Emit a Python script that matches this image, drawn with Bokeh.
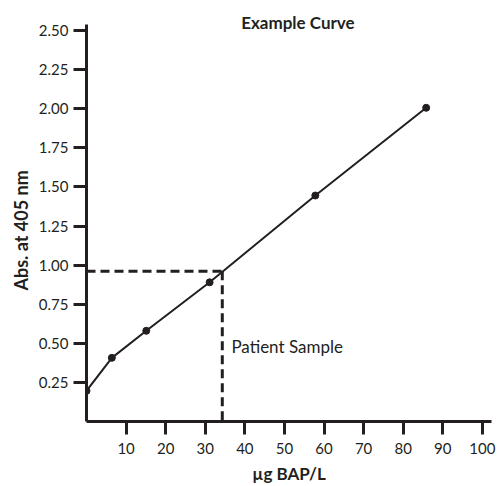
from bokeh.plotting import figure
from bokeh.models import Range1d, FixedTicker, NumeralTickFormatter, Label, Title
from bokeh.embed import file_html
from bokeh.resources import INLINE

# Standard curve data
conc = [0.0, 6.4, 15.1, 31.1, 57.8, 85.8]          # µg BAP/L
absorb = [0.196, 0.407, 0.58, 0.89, 1.445, 2.006]  # Abs. at 405 nm

sample_conc = 34.3
sample_abs = 0.96

x_ticks = [10, 20, 30, 40, 50, 60, 70, 80, 90, 100]
y_ticks = [0.25, 0.50, 0.75, 1.00, 1.25, 1.50, 1.75, 2.00, 2.25, 2.50]

INK = "#231f20"
FONT = "Lato"

p = figure(width=498, height=486, output_backend="svg", toolbar_location=None,
           x_range=Range1d(0, 102.3), y_range=Range1d(0, 2.692),
           min_border_left=86, min_border_right=7, min_border_top=0, min_border_bottom=65)
p.outline_line_color = None
p.grid.visible = False
p.background_fill_color = "white"
p.border_fill_color = "white"

for ax in (p.xaxis[0], p.yaxis[0]):
    ax.axis_line_width = 3
    ax.axis_line_color = INK
    ax.major_tick_line_width = 3
    ax.major_tick_line_color = INK
    ax.major_tick_out = 13
    ax.major_tick_in = 0
    ax.minor_tick_line_color = None
    ax.major_label_text_font = FONT
    ax.major_label_text_font_size = "15px"
    ax.major_label_text_color = INK
    ax.axis_label_text_font = FONT
    ax.axis_label_text_font_style = "bold"
    ax.axis_label_text_font_size = "17px"
    ax.axis_label_text_color = INK

p.yaxis.bounds = (0, 2.54)
p.xaxis.ticker = FixedTicker(ticks=x_ticks)
p.yaxis.ticker = FixedTicker(ticks=y_ticks)
p.yaxis.formatter = NumeralTickFormatter(format="0.00")
p.xaxis.major_label_standoff = 8
p.yaxis.major_label_standoff = 5
p.xaxis.axis_label = "µg BAP/L"
p.xaxis.axis_label_standoff = 6

# y-axis title as a side title so it can be shifted along the axis
p.add_layout(Title(text="Abs. at 405 nm", align="left", offset=131, standoff=7,
                   text_font=FONT, text_font_style="bold", text_font_size="18px",
                   text_color=INK), "left")

# Dashed guide lines for the patient sample
p.line([0, sample_conc], [sample_abs, sample_abs], line_color=INK, line_width=3, line_dash="9 5")
p.line([sample_conc, sample_conc], [sample_abs, 0], line_color=INK, line_width=3, line_dash="9 5")

# Standard curve
p.line(conc, absorb, line_color=INK, line_width=2)
p.scatter(conc, absorb, size=7, color=INK)

p.add_layout(Label(x=53.4, y=2.551, text="Example Curve", text_font=FONT, text_font_style="bold",
                   text_font_size="17px", text_color=INK, text_align="center", text_baseline="middle"))
p.add_layout(Label(x=36.6, y=0.48, text="Patient Sample", text_font=FONT,
                   text_font_size="17px", text_color=INK, text_align="left", text_baseline="middle"))

open("out.html", "w").write(file_html(p, INLINE))
